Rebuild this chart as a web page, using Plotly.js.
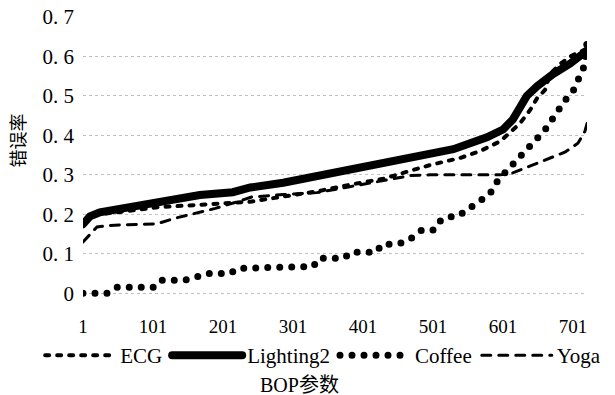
<!DOCTYPE html>
<html>
<head>
<meta charset="utf-8">
<script src="https://cdn.plot.ly/plotly-3.0.1.min.js"></script>
<style>
  html, body { margin: 0; padding: 0; background: #fff; }
  #chart { width: 615px; height: 395px; }
  path.js-line { stroke-linecap: round !important; }
  #chart .xtick text, #chart .ytick text, #chart .legendtext,
  #chart .annotation[data-index="1"] text {
    font-family: 'Liberation Serif', 'Noto Sans CJK SC' !important;
    white-space: pre;
  }
  #chart .annotation[data-index="0"] text {
    font-family: 'Noto Sans CJK SC' !important;
  }
</style>
</head>
<body>
<div id="chart"></div>
<script>
// BOP parameter index (x) and error rates (y)
const ecgX = [1, 25, 72, 107, 147, 190, 240, 287, 335, 382, 430, 468, 497, 540, 568, 597, 625, 640, 650, 661, 668, 682, 697, 721];
const ecgY = [0.185, 0.2, 0.21, 0.218, 0.222, 0.226, 0.232, 0.245, 0.258, 0.275, 0.29, 0.31, 0.325, 0.343, 0.36, 0.385, 0.43, 0.465, 0.495, 0.515, 0.555, 0.58, 0.6, 0.62];

const lightX = [1, 11, 25, 72, 121, 168, 215, 240, 287, 335, 382, 430, 478, 530, 578, 601, 615, 625, 635, 650, 672, 697, 721];
const lightY = [0.175, 0.195, 0.205, 0.218, 0.236, 0.249, 0.256, 0.268, 0.28, 0.297, 0.315, 0.33, 0.345, 0.365, 0.395, 0.415, 0.44, 0.475, 0.5, 0.525, 0.555, 0.582, 0.615];

const coffeeX = [1, 35, 48, 101, 111, 145, 161, 178, 211, 222, 330, 338, 374, 384, 420, 428, 447, 461, 472, 485, 501, 507, 520, 537, 547, 558, 571, 582, 594, 604, 614, 622, 631, 640, 650, 658, 665, 672, 681, 690, 700, 707, 712, 718, 721];
const coffeeY = [0.0, 0.0, 0.015, 0.015, 0.033, 0.033, 0.04, 0.05, 0.05, 0.063, 0.068, 0.089, 0.089, 0.104, 0.104, 0.124, 0.124, 0.13, 0.142, 0.16, 0.16, 0.178, 0.193, 0.195, 0.208, 0.223, 0.236, 0.251, 0.287, 0.307, 0.325, 0.343, 0.358, 0.376, 0.393, 0.406, 0.424, 0.447, 0.47, 0.49, 0.508, 0.533, 0.558, 0.579, 0.637];

const yogaX = [1, 11, 21, 40, 107, 132, 168, 190, 218, 242, 287, 335, 382, 430, 468, 497, 540, 597, 615, 625, 650, 672, 690, 708, 715, 718, 721];
const yogaY = [0.13, 0.15, 0.168, 0.172, 0.176, 0.19, 0.205, 0.215, 0.23, 0.244, 0.25, 0.255, 0.27, 0.285, 0.298, 0.3, 0.3, 0.3, 0.305, 0.312, 0.33, 0.345, 0.358, 0.38, 0.4, 0.41, 0.43];

const seriesNames = ['ECG', 'Lighting2', 'Coffee', 'Yoga'];
const xTickVals = [1, 101, 201, 301, 401, 501, 601, 701];
const xTickText = ['1', '101', '201', '301', '401', '501', '601', '701'];
const yTickVals = [0, 0.1, 0.2, 0.3, 0.4, 0.5, 0.6, 0.7];
const yTickText = ['0', '0.\u00a01', '0.\u00a02', '0.\u00a03', '0.\u00a04', '0.\u00a05', '0.\u00a06', '0.\u00a07'];
const xTitle = 'BOP参数';
const yTitle = '错误率';

const SERIF = 'Liberation Serif';

const traces = [
  {x: ecgX, y: ecgY, name: seriesNames[0], mode: 'lines', type: 'scatter',
   line: {color: '#000', width: 4, dash: '4px,8px'}},
  {x: lightX, y: lightY, name: seriesNames[1], mode: 'lines', type: 'scatter',
   line: {color: '#000', width: 8}},
  {x: coffeeX, y: coffeeY, name: seriesNames[2], mode: 'lines', type: 'scatter',
   line: {color: '#000', width: 7, dash: '0px,12px'}},
  {x: yogaX, y: yogaY, name: seriesNames[3], mode: 'lines', type: 'scatter',
   line: {color: '#000', width: 3, dash: '9px,8px'}}
];

const layout = {
  width: 615, height: 395,
  margin: {l: 83, r: 28, t: 17, b: 97},
  paper_bgcolor: '#fff', plot_bgcolor: '#fff',
  font: {family: SERIF, color: '#000'},
  showlegend: true,
  legend: {
    orientation: 'h', x: -0.085, y: -0.205, yanchor: 'middle',
    font: {family: SERIF, size: 21, color: '#000'},
    itemwidth: 70
  },
  xaxis: {
    range: [1, 721], tickvals: xTickVals, ticktext: xTickText,
    showgrid: false, zeroline: false, showline: false, ticks: '',
    ticklabelstandoff: 15,
    tickfont: {family: SERIF, size: 19, color: '#000'}
  },
  yaxis: {
    range: [-0.012, 0.7], tickvals: yTickVals, ticktext: yTickText,
    showgrid: true, gridcolor: '#c0c0c0', griddash: 'dot', gridwidth: 1,
    zeroline: false, showline: false, ticks: '',
    ticklabelstandoff: 8,
    tickfont: {family: SERIF, size: 21, color: '#000'}
  },
  annotations: [
    {text: yTitle, xref: 'paper', yref: 'paper', x: -0.131, y: 0.56, xanchor: 'center', yanchor: 'middle',
     textangle: -90, showarrow: false, font: {family: 'Noto Sans CJK SC', size: 18, color: '#000'}},
    {text: xTitle, xref: 'paper', yref: 'paper', x: 0.43, y: -0.31, xanchor: 'center', yanchor: 'middle',
     showarrow: false, font: {family: SERIF, size: 20, color: '#000'}}
  ]
};

Plotly.newPlot('chart', traces, layout, {displayModeBar: false, staticPlot: true});
</script>
</body>
</html>
